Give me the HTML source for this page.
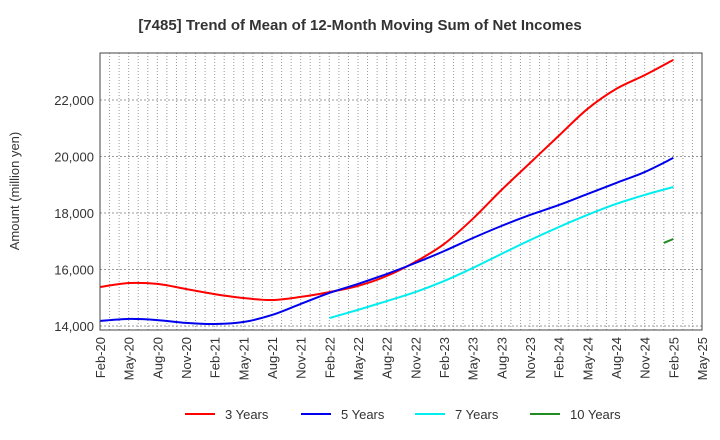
<!DOCTYPE html>
<html><head><meta charset="utf-8"><style>
body{margin:0;background:#fff;}
svg{font-family:"Liberation Sans",sans-serif;display:block;}
</style></head><body>
<svg id="c" width="720" height="440" xmlns="http://www.w3.org/2000/svg">
<text x="360" y="30" text-anchor="middle" font-size="15" font-weight="bold" fill="#333">[7485]  Trend of Mean of 12-Month Moving Sum of Net Incomes</text>
<text transform="translate(19,191) rotate(-90)" text-anchor="middle" font-size="13" fill="#333">Amount (million yen)</text>
<g id="grid"></g><g id="series"></g><g id="axes"></g>
<g id="legend"></g>
</svg>
<script>
const xLabels=["Feb-20","May-20","Aug-20","Nov-20","Feb-21","May-21","Aug-21","Nov-21","Feb-22","May-22","Aug-22","Nov-22","Feb-23","May-23","Aug-23","Nov-23","Feb-24","May-24","Aug-24","Nov-24","Feb-25","May-25"];
const yTicks=[14000,16000,18000,20000,22000];
const s3=[15380,15520,15490,15310,15130,14990,14920,15030,15200,15420,15770,16270,16900,17790,18810,19770,20730,21680,22390,22880,23420];
const s5=[14180,14250,14210,14110,14070,14140,14390,14780,15170,15490,15840,16230,16650,17110,17540,17930,18280,18670,19060,19450,19950];
const s7=[14280,14570,14880,15200,15590,16050,16550,17040,17500,17930,18320,18640,18920];
const s7Start=24;
const s10=[16940,17080];
const s10Start=59;
const NS="http://www.w3.org/2000/svg";
const L=100,R=702,T=53,B=330,MONTHS=63;
const xm=m=>L+m*(R-L)/MONTHS;
const yv=v=>326-(v-14000)/1000*28.25;
function mk(t,a,p){const e=document.createElementNS(NS,t);for(const k in a)e.setAttribute(k,a[k]);p.appendChild(e);return e;}
const grid=document.getElementById('grid'),axes=document.getElementById('axes'),ser=document.getElementById('series'),leg=document.getElementById('legend');
for(let m=1;m<MONTHS;m++){const l=mk('line',{x1:xm(m),x2:xm(m),y1:T,y2:B,stroke:'#999','stroke-width':1,'stroke-dasharray':'1,2'},grid);

}
for(let v=14000;v<=23000;v+=2000){const l=mk('line',{x1:L,x2:R,y1:yv(v),y2:yv(v),stroke:'#999','stroke-width':1,'stroke-dasharray':'2,2'},grid);

}
const fr=mk('rect',{x:L,y:T,width:R-L,height:B-T,fill:'none',stroke:'#444','stroke-width':1},axes);


yTicks.forEach(v=>{const t=mk('text',{x:L-6,y:yv(v)+5,'text-anchor':'end','font-size':13,fill:'#333'},axes);t.textContent=v.toLocaleString('en-US');

});
xLabels.forEach((s,i)=>{const x=xm(i*3);const t=mk('text',{transform:`translate(${x+5},337) rotate(-90)`,'text-anchor':'end','font-size':13,fill:'#333'},axes);t.textContent=s;

});
function path(vals,start,step){const pts=vals.map((v,i)=>[xm(start+i*step),yv(v)]);let d=`M${pts[0][0]},${pts[0][1]}`;
for(let i=0;i<pts.length-1;i++){const p0=pts[i-1]||pts[i],p1=pts[i],p2=pts[i+1],p3=pts[i+2]||p2;
d+=` C${p1[0]+(p2[0]-p0[0])/6},${p1[1]+(p2[1]-p0[1])/6} ${p2[0]-(p3[0]-p1[0])/6},${p2[1]-(p3[1]-p1[1])/6} ${p2[0]},${p2[1]}`;}return d;}
const defs=[[s3,0,3,'#ff0000','series-3-years'],[s5,0,3,'#0000ee','series-5-years'],[s7,s7Start,3,'#00eeee','series-7-years'],[s10,s10Start,1,'#228b22','series-10-years']];
defs.forEach(([v,s,st,c,n])=>{const p=mk('path',{d:path(v,s,st),fill:'none',stroke:c,'stroke-width':2},ser);

});
const li=[['3 Years','#ff0000',185],['5 Years','#0000ee',301],['7 Years','#00eeee',415],['10 Years','#228b22',530]];
li.forEach(([t,c,x])=>{const g=mk('g',{},leg);


mk('line',{x1:x,x2:x+30,y1:414,y2:414,stroke:c,'stroke-width':2},g);
const tx=mk('text',{x:x+40,y:419,'font-size':13,fill:'#333'},g);tx.textContent=t;});
</script>
</body></html>
